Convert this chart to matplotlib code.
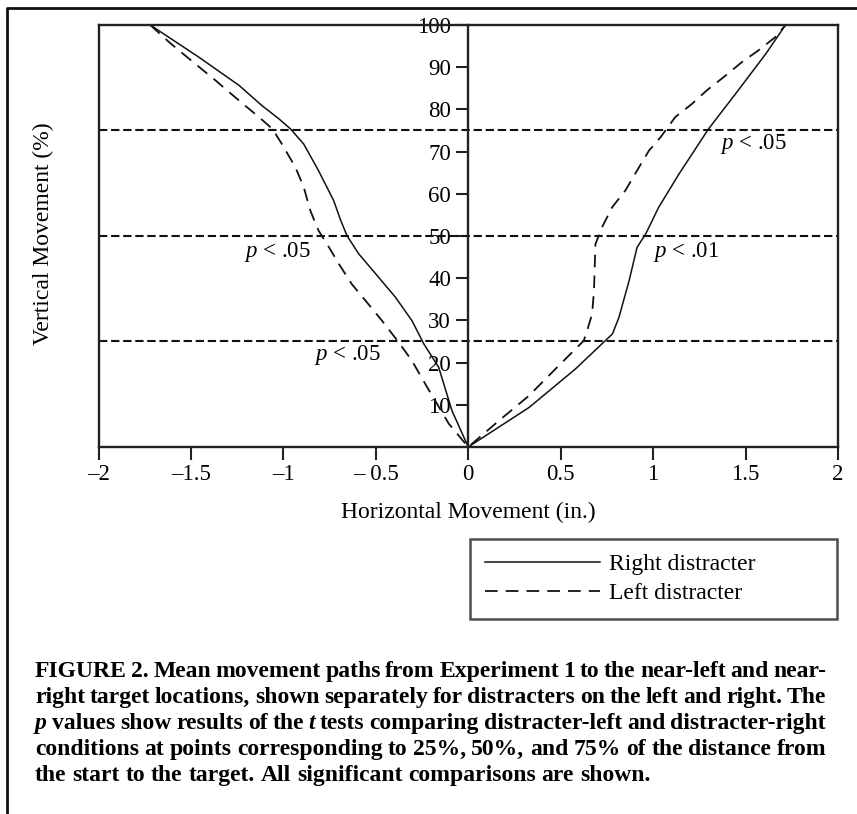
import matplotlib
matplotlib.use("Agg")
import matplotlib.pyplot as plt
from matplotlib.lines import Line2D

plt.rcParams['font.family'] = ['Liberation Serif', 'DejaVu Serif']
plt.rcParams['mathtext.fontset'] = 'custom'
plt.rcParams['mathtext.rm'] = 'Liberation Serif'
plt.rcParams['mathtext.it'] = 'Liberation Serif:italic'

# path to the near-right target (x in inches, y in % of vertical movement)
right_tgt_rd_x = [0, 0.33, 0.58, 0.78, 0.815, 0.87, 0.913, 0.96, 1.03, 1.14, 1.30, 1.446, 1.61, 1.716]
right_tgt_rd_y = [0, 9.4, 18.5, 26.8, 30.7, 39.4, 47.3, 50.5, 56.8, 64.7, 75.4, 83.7, 93.2, 100]
right_tgt_ld_x = [0, 0.165, 0.327, 0.49, 0.625, 0.643, 0.67, 0.68, 0.688, 0.724, 0.778, 0.85,
                  0.913, 0.977, 1.04, 1.12, 1.21, 1.29, 1.38, 1.48, 1.57, 1.66, 1.716]
right_tgt_ld_y = [0, 6.2, 12.1, 19.3, 25.2, 27.6, 31.5, 37, 48.1, 52.1, 56.8, 60.8,
                  65.5, 70.2, 73.4, 78.2, 81.3, 84.5, 87.6, 91.2, 94, 97.1, 100]

# path to the near-left target
left_tgt_rd_x = [0, -0.088, -0.16, -0.24, -0.304, -0.394, -0.50, -0.593, -0.656, -0.69, -0.728,
                 -0.81, -0.89, -0.962, -1.025, -1.116, -1.24, -1.458, -1.72]
left_tgt_rd_y = [0, 8.6, 18.9, 24.4, 29.9, 35.5, 41, 45.8, 50.1, 53.7, 58.4,
                 65.5, 71.8, 75.4, 77.8, 80.9, 85.7, 92.4, 100]
left_tgt_ld_x = [0, -0.105, -0.232, -0.304, -0.376, -0.466, -0.556, -0.63, -0.70, -0.764, -0.81,
                 -0.854, -0.89, -0.935, -1.008, -1.06, -1.13, -1.24, -1.368, -1.51, -1.62, -1.72]
left_tgt_ld_y = [0, 5.5, 14.9, 20.4, 24.8, 29.9, 34.7, 38.6, 43.4, 48.1, 51.3,
                 56, 61.6, 66.3, 71.8, 75.4, 78.1, 82.1, 86.9, 92, 96, 100]

checkpoints = [25, 50, 75]
p_labels = ["p < .05", "p < .05", "p < .05", "p < .01"]
p_x = [-1.031, -0.652, 1.542, 1.18]
p_y = [46.1, 21.7, 71.9, 46.1]

x_ticks = [-2, -1.5, -1, -0.5, 0, 0.5, 1, 1.5, 2]
x_ticklabels = ['\u20132', '\u20131.5', '\u20131', '\u2013 0.5', '0', '0.5', '1', '1.5', '2']
y_ticks = [10, 20, 30, 40, 50, 60, 70, 80, 90, 100]

caption = [
    [("FIGURE 2.", "normal"), ("Mean movement paths from Experiment 1 to the near-left and near-", "normal")],
    [("right target locations, shown separately for distracters on the left and right. The", "normal")],
    [("p", "italic"), ("values show results of the", "normal"), ("t", "italic"),
     ("tests comparing distracter-left and distracter-right", "normal")],
    [("conditions at points corresponding to 25%, 50%, and 75% of the distance from", "normal")],
    [("the start to the target. All significant comparisons are shown.", "normal")],
]

W, H = 857, 814
fig = plt.figure(figsize=(W / 100, H / 100), dpi=100)
ax = fig.add_axes([98.5 / W, 1 - 447 / H, (838 - 98.5) / W, (447 - 25) / H])

def combine(lx, ly, rx, ry):
    return lx[::-1] + rx[1:], ly[::-1] + ry[1:]

xs, ys = combine(left_tgt_rd_x, left_tgt_rd_y, right_tgt_rd_x, right_tgt_rd_y)
ax.plot(xs, ys, color='#111111', lw=1.1, label='Right distracter')
xs, ys = combine(left_tgt_ld_x, left_tgt_ld_y, right_tgt_ld_x, right_tgt_ld_y)
ax.plot(xs, ys, color='#111111', lw=1.3, ls=(0, (7, 4.5)), label='Left distracter')

for c in checkpoints:
    ax.axhline(c, color='#111111', lw=1.5, ls=(0, (4, 1.8)))

for lab, px, py in zip(p_labels, p_x, p_y):
    ax.text(px, py, lab.replace("p", "$p$", 1), fontsize=16.5, ha='center', va='center')

ax.set_xlim(-2, 2)
ax.set_ylim(0, 100)
ax.set_xticks(x_ticks)
ax.set_xticklabels(x_ticklabels)
ax.set_yticks(y_ticks)

for s in ax.spines.values():
    s.set_linewidth(1.7)
    s.set_color('#222222')
ax.spines['left'].set_position(('data', 0))
ax.axvline(-2, color='#222222', lw=1.7, clip_on=False)

ax.tick_params(axis='x', direction='out', length=9.5, width=1.5, pad=3, labelsize=16.5, color='#222222')
ax.tick_params(axis='y', direction='out', length=8.5, width=1.5, pad=4, labelsize=16.5, color='#222222')

fig.text(43 / W, 1 - 234 / H, "Vertical Movement (%)", rotation=90, fontsize=17,
         ha='center', va='center')
fig.text(468 / W, 1 - 518 / H, "Horizontal Movement (in.)", fontsize=17,
         ha='center', va='baseline')

# legend
leg = fig.legend(loc='upper left', bbox_to_anchor=(470 / W, 1 - 619 / H, (837 - 470) / W, (619 - 539) / H),
                 mode='expand', fontsize=17, frameon=True, fancybox=False, handlelength=4.87,
                 handletextpad=0.38, labelspacing=0.32, borderpad=0.63, borderaxespad=0)
leg.get_frame().set_edgecolor('#222222')
leg.get_frame().set_linewidth(1.8)

# figure frame (top and left edges)
fig.add_artist(Line2D([7.5 / W, 7.5 / W, 1], [0, 1 - 7.7 / H, 1 - 7.7 / H],
                      transform=fig.transFigure, color='#111111', lw=2))

# justified caption
renderer = fig.canvas.get_renderer()
cap_x0, cap_x1 = 35, 826
baselines = [677, 703, 729, 755, 781]
cap_size = 17
for i, line in enumerate(caption):
    words = []
    for chunk, style in line:
        for w in chunk.split(" "):
            words.append((w, style))
    texts = []
    widths = []
    for w, style in words:
        t = fig.text(0, 1 - baselines[i] / H, w, fontsize=cap_size, fontweight='bold',
                     style=style, va='baseline', ha='left')
        texts.append(t)
        widths.append(t.get_window_extent(renderer).width)
    if i == len(caption) - 1:
        a = fig.text(0, 0, "a b", fontsize=cap_size, fontweight='bold')
        b = fig.text(0, 0, "ab", fontsize=cap_size, fontweight='bold')
        gw = a.get_window_extent(renderer).width - b.get_window_extent(renderer).width
        a.remove()
        b.remove()
    else:
        gw = (cap_x1 - cap_x0 - sum(widths)) / (len(words) - 1)
    x = cap_x0
    for t, wd in zip(texts, widths):
        t.set_x(x / W)
        x += wd + gw

fig.savefig("out.png", dpi=100)
